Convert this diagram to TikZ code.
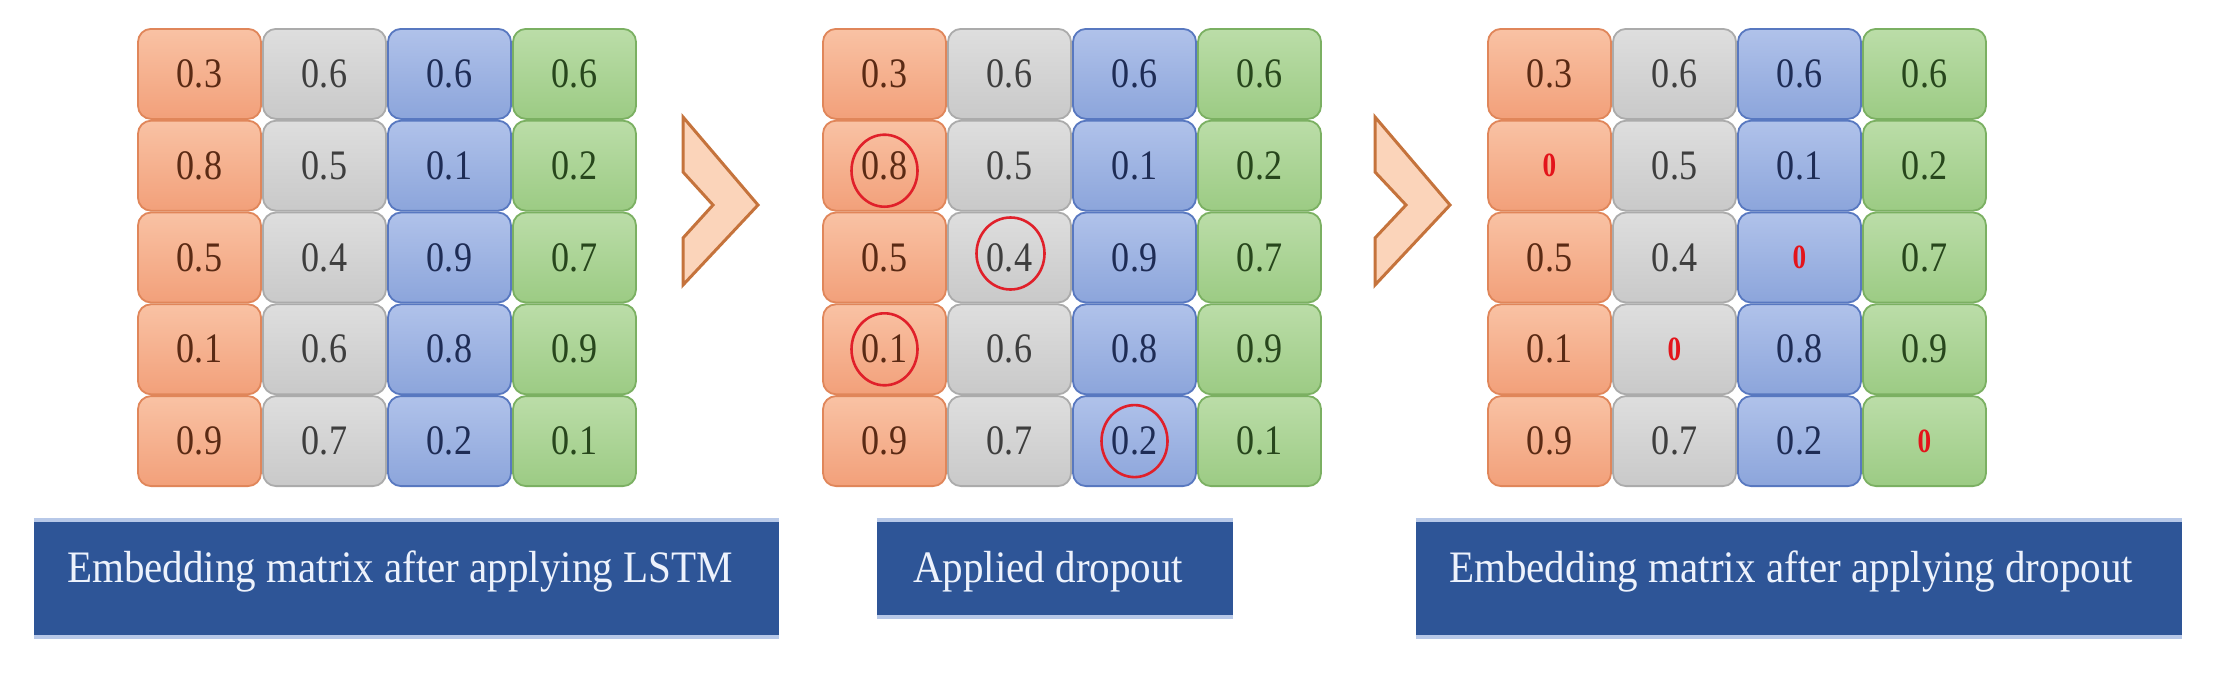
\documentclass[tikz,border=0pt]{standalone}
\usepackage{graphicx}
\usepackage{fontspec}
\setmainfont{Liberation Serif}
\definecolor{orTop}{HTML}{F9C2A4}
\definecolor{orBot}{HTML}{F2A07A}
\definecolor{orLine}{HTML}{E0865A}
\definecolor{orText}{HTML}{5A2A14}
\definecolor{grTop}{HTML}{DEDEDE}
\definecolor{grBot}{HTML}{C9C9C9}
\definecolor{grLine}{HTML}{ABABAB}
\definecolor{grText}{HTML}{3E3E3E}
\definecolor{blTop}{HTML}{B0C2EA}
\definecolor{blBot}{HTML}{8CA5DB}
\definecolor{blLine}{HTML}{5878C0}
\definecolor{blText}{HTML}{1E2C55}
\definecolor{gnTop}{HTML}{BBDDA8}
\definecolor{gnBot}{HTML}{9CCB84}
\definecolor{gnLine}{HTML}{7BB062}
\definecolor{gnText}{HTML}{27461C}
\definecolor{zeroRed}{HTML}{E3141B}
\definecolor{ringRed}{HTML}{E0202A}
\definecolor{arrFill}{HTML}{FBD4BA}
\definecolor{arrLine}{HTML}{C5733C}
\definecolor{labFill}{HTML}{2E5597}
\definecolor{labEdge}{HTML}{B7C8E8}
\definecolor{labText}{HTML}{EDF2FC}
\newcommand\cellfnt{\fontsize{42}{48}\selectfont}
\newcommand\labfnt{\fontsize{45}{54}\selectfont}
\newcommand\nm[1]{\scalebox{0.86}[1]{#1}}
\newcommand\zr{\textcolor{zeroRed}{\bfseries\fontsize{34}{40}\selectfont\scalebox{0.8}[1]{0}}}
\newcommand\lt[1]{\scalebox{0.912}[1]{#1}}
% matrix row: #1 name, #2 x0, #3 row, #4..#7 values
\newcommand\mrow[7]{%
  \node[cell,cA] (#1-#3-1) at ({#2+62.5},{28+91.8*(#3-0.5)}) {#4};
  \node[cell,cB] (#1-#3-2) at ({#2+187.5},{28+91.8*(#3-0.5)}) {#5};
  \node[cell,cC] (#1-#3-3) at ({#2+312.5},{28+91.8*(#3-0.5)}) {#6};
  \node[cell,cD] (#1-#3-4) at ({#2+437.5},{28+91.8*(#3-0.5)}) {#7};
}
\begin{document}
\begin{tikzpicture}[x=1pt,y=-1pt,
  cell/.style={rounded corners=13pt, line width=1.8pt, minimum width=123pt, minimum height=90pt, inner sep=0pt, font=\cellfnt},
  cA/.style={top color=orTop, bottom color=orBot, draw=orLine, text=orText},
  cB/.style={top color=grTop, bottom color=grBot, draw=grLine, text=grText},
  cC/.style={top color=blTop, bottom color=blBot, draw=blLine, text=blText},
  cD/.style={top color=gnTop, bottom color=gnBot, draw=gnLine, text=gnText},
  ring/.style={draw=ringRed, line width=2.6pt},
  chev/.style={fill=arrFill, draw=arrLine, line width=3pt, line join=miter},
  labbox/.style={fill=labFill, draw=none, inner sep=0pt},
  labedge/.style={draw=labEdge, line width=4pt},
  labtext/.style={text=labText, font=\labfnt, inner sep=0pt, anchor=base west}]
\useasboundingbox (0,0) rectangle (2213,686);
\fill[white] (0,0) rectangle (2213,686);
% matrix 1
\mrow{m1}{137}{1}{\nm{0.3}}{\nm{0.6}}{\nm{0.6}}{\nm{0.6}}
\mrow{m1}{137}{2}{\nm{0.8}}{\nm{0.5}}{\nm{0.1}}{\nm{0.2}}
\mrow{m1}{137}{3}{\nm{0.5}}{\nm{0.4}}{\nm{0.9}}{\nm{0.7}}
\mrow{m1}{137}{4}{\nm{0.1}}{\nm{0.6}}{\nm{0.8}}{\nm{0.9}}
\mrow{m1}{137}{5}{\nm{0.9}}{\nm{0.7}}{\nm{0.2}}{\nm{0.1}}
% matrix 2
\mrow{m2}{822}{1}{\nm{0.3}}{\nm{0.6}}{\nm{0.6}}{\nm{0.6}}
\mrow{m2}{822}{2}{\nm{0.8}}{\nm{0.5}}{\nm{0.1}}{\nm{0.2}}
\mrow{m2}{822}{3}{\nm{0.5}}{\nm{0.4}}{\nm{0.9}}{\nm{0.7}}
\mrow{m2}{822}{4}{\nm{0.1}}{\nm{0.6}}{\nm{0.8}}{\nm{0.9}}
\mrow{m2}{822}{5}{\nm{0.9}}{\nm{0.7}}{\nm{0.2}}{\nm{0.1}}
% matrix 3
\mrow{m3}{1487}{1}{\nm{0.3}}{\nm{0.6}}{\nm{0.6}}{\nm{0.6}}
\mrow{m3}{1487}{2}{\zr}{\nm{0.5}}{\nm{0.1}}{\nm{0.2}}
\mrow{m3}{1487}{3}{\nm{0.5}}{\nm{0.4}}{\zr}{\nm{0.7}}
\mrow{m3}{1487}{4}{\nm{0.1}}{\zr}{\nm{0.8}}{\nm{0.9}}
\mrow{m3}{1487}{5}{\nm{0.9}}{\nm{0.7}}{\nm{0.2}}{\zr}
% dropout rings
\draw[ring] ([yshift=-5pt]m2-2-1.center) ellipse [x radius=33pt, y radius=36pt];
\draw[ring] ([xshift=1pt,yshift=4pt]m2-3-2.center) ellipse [x radius=34pt, y radius=36pt];
\draw[ring] (m2-4-1.center) ellipse [x radius=33pt, y radius=36pt];
\draw[ring] (m2-5-3.center) ellipse [x radius=33pt, y radius=36pt];
% chevrons
\draw[chev] (683,117) -- (758,205) -- (683,285) -- (683,238) -- (713,205) -- (683,172) -- cycle;
\draw[chev] (1375,117) -- (1450,205) -- (1375,285) -- (1375,238) -- (1406,205) -- (1375,172) -- cycle;
% labels
\node[labbox, minimum width=745pt, minimum height=117pt] (lab1) at (406.5,578.5) {};
\node[labbox, minimum width=356pt, minimum height=97pt] (lab2) at (1055,568.5) {};
\node[labbox, minimum width=766pt, minimum height=117pt] (lab3) at (1799,578.5) {};
\foreach \b in {lab1,lab2,lab3}{
  \draw[labedge] (\b.north west) -- (\b.north east);
  \draw[labedge] (\b.south west) -- (\b.south east);
}
\node[labtext] (lab1t) at (67,582) {\lt{Embedding matrix after applying LSTM}};
\node[labtext] (lab2t) at (913,582) {\lt{Applied dropout}};
\node[labtext] (lab3t) at (1449,582) {\lt{Embedding matrix after applying dropout}};
\end{tikzpicture}
\end{document}
